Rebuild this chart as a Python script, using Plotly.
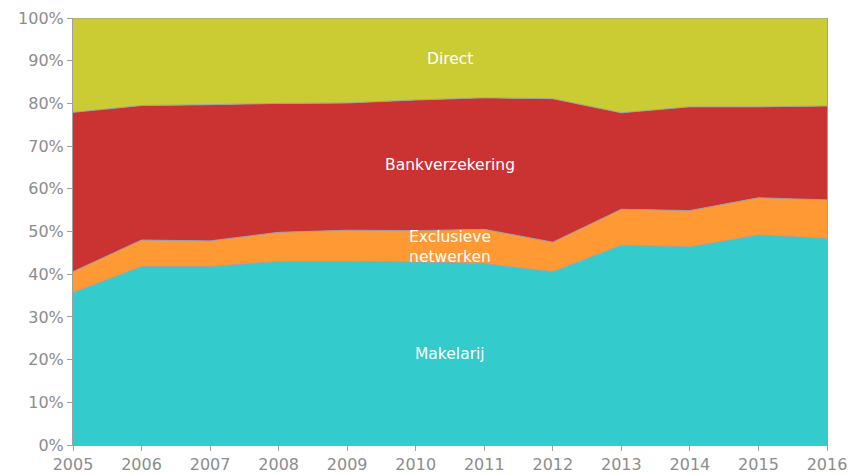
import plotly.graph_objects as go

years = [2005, 2006, 2007, 2008, 2009, 2010, 2011, 2012, 2013, 2014, 2015, 2016]
makelarij = [35.7, 41.8, 41.8, 43.0, 43.0, 42.9, 42.5, 40.6, 46.8, 46.4, 49.2, 48.4]
exclusieve = [4.9, 6.2, 6.0, 6.8, 7.3, 7.3, 8.0, 6.9, 8.4, 8.5, 8.7, 9.0]
bank = [37.3, 31.5, 31.9, 30.2, 29.8, 30.6, 30.8, 33.6, 22.6, 24.3, 21.3, 22.0]
direct = [22.1, 20.5, 20.3, 20.0, 19.9, 19.2, 18.7, 18.9, 22.2, 20.8, 20.8, 20.6]

series = [
    ("Makelarij", makelarij, "#33CBCB"),
    ("Exclusieve netwerken", exclusieve, "#FF9933"),
    ("Bankverzekering", bank, "#CB3333"),
    ("Direct", direct, "#CBCB33"),
]

fig = go.Figure()
for name, vals, col in series:
    fig.add_trace(go.Scatter(
        x=years, y=vals, name=name, mode="lines", stackgroup="one",
        line=dict(color="#A0A0A0", width=1), fillcolor=col,
        hoverinfo="x+y+name",
    ))

labels = [
    ("Direct", 90.4),
    ("Bankverzekering", 65.6),
    ("Exclusieve<br>netwerken", 46.3),
    ("Makelarij", 21.3),
]
for txt, yv in labels:
    fig.add_annotation(x=2010.5, y=yv, text=txt, showarrow=False,
                       font=dict(family="DejaVu Sans", size=15.5, color="white"))

fig.update_layout(
    width=850, height=475,
    margin=dict(l=73, r=23, t=18, b=30),
    plot_bgcolor="white", paper_bgcolor="white",
    showlegend=False,
    font=dict(family="DejaVu Sans", color="#8C8C8C", size=16),
)
fig.update_xaxes(
    range=[2005, 2016], tickvals=years, ticktext=[str(y) for y in years],
    showgrid=False, zeroline=False, showline=True, linecolor="#A0A0A0",
    ticks="outside", ticklen=5, tickcolor="#A0A0A0", automargin=False,
)
fig.update_yaxes(
    range=[0, 100], tickvals=list(range(0, 101, 10)),
    ticktext=[f"{v}%" for v in range(0, 101, 10)],
    showgrid=False, zeroline=False, showline=True, linecolor="#A0A0A0",
    ticks="outside", ticklen=5, tickcolor="#A0A0A0", mirror=True,
    automargin=False,
)
fig.write_html("out.html")
